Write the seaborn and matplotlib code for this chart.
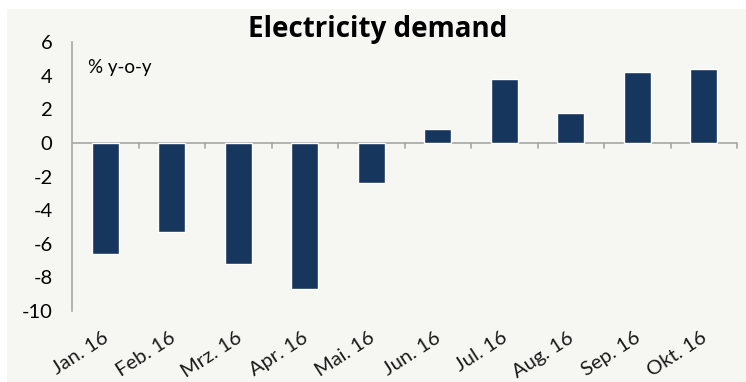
import matplotlib
matplotlib.use("Agg")
import matplotlib.pyplot as plt
import matplotlib.transforms as mtransforms
import seaborn as sns
import pandas as pd
from matplotlib.patches import Rectangle

months = ["Jan. 16", "Feb. 16", "Mrz. 16", "Apr. 16", "Mai. 16",
          "Jun. 16", "Jul. 16", "Aug. 16", "Sep. 16", "Okt. 16"]
values = [-6.6, -5.3, -7.2, -8.7, -2.4, 0.8, 3.8, 1.8, 4.2, 4.4]
yticks = [-10, -8, -6, -4, -2, 0, 2, 4, 6]
title = "Electricity demand"
unit_label = "% y-o-y"

sns.set_style("white")
plt.rcParams['font.family'] = ['Lato', 'DejaVu Sans']

df = pd.DataFrame({"month": months, "value": values})
bg = "#F6F6F2"
bar_color = "#17365D"
axis_color = "#A6A6A6"

fig = plt.figure(figsize=(7.46, 3.82), dpi=100)
fig.patch.set_facecolor("white")
fig.patches.append(Rectangle((7/746, 0), 1 - 7/746, 1 - 9/382,
                             transform=fig.transFigure, facecolor=bg,
                             edgecolor="none", zorder=-10))

ax = fig.add_axes([72/746, 1 - 311/382, (737 - 72)/746, (311 - 42)/382])
ax.set_facecolor("none")
sns.barplot(data=df, x="month", y="value", color=bar_color, width=0.4,
            saturation=1, ax=ax)

ax.set_ylim(-10, 6)
ax.set_xlim(-0.5, len(months) - 0.5)
ax.set_yticks(yticks)
ax.set_yticklabels([str(t) for t in yticks], fontsize=14.5, color="#000000")
ax.set_xlabel("")
ax.set_ylabel("")

for s in ["top", "right", "bottom"]:
    ax.spines[s].set_visible(False)
ax.spines["left"].set_color(axis_color)
ax.spines["left"].set_linewidth(1.2)
ax.axhline(0, color=axis_color, lw=1.2, zorder=0.5)

ax.tick_params(axis="y", length=5, width=1.2, color=axis_color, pad=9, direction="out")
ax.tick_params(axis="x", length=0, pad=13)

# category boundary ticks on zero line
for b in range(1, len(months) + 1):
    ax.plot([b - 0.5, b - 0.5], [0, -0.3], color=axis_color, lw=1.2,
            clip_on=False, zorder=0.5)

ax.set_xticks(range(len(months)))
ax.set_xticklabels(months, rotation=33, ha="right", rotation_mode="anchor",
                   fontsize=14.5, color="#1a1a1a")
offset = mtransforms.ScaledTranslation(-3/100, 0, fig.dpi_scale_trans)
for lbl in ax.get_xticklabels():
    lbl.set_transform(lbl.get_transform() + offset)

fig.text(378/746, 1 - 29/382, title, ha="center", va="center",
         fontsize=20, fontweight="bold", color="#000000",
         family=["Open Sans", "DejaVu Sans"])
ax.text(88/746, 1 - 67/382, unit_label, transform=fig.transFigure,
        ha="left", va="center", fontsize=13.5, color="#000000")

fig.savefig("out.png", dpi=100, facecolor=fig.get_facecolor())
